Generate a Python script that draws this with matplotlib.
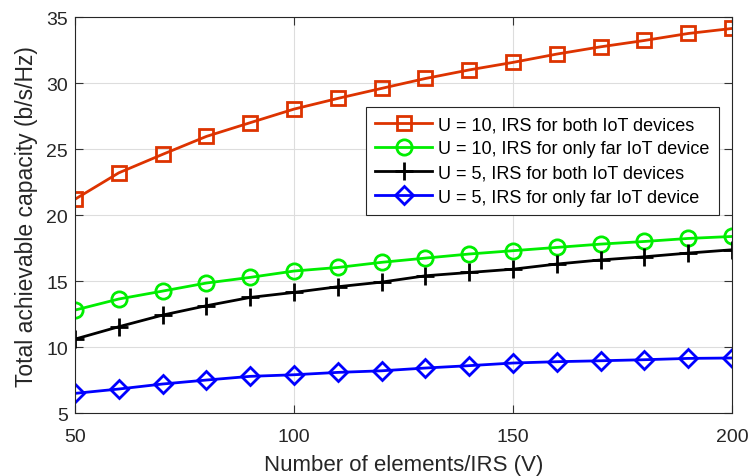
import matplotlib.pyplot as plt

plt.rcParams['font.family'] = ['Liberation Sans', 'DejaVu Sans']

# Sample data
elements = [50, 60, 70, 80, 90, 100, 110, 120, 130, 140, 150, 160, 170, 180, 190, 200]
u10_both = [21.2, 23.2, 24.6, 25.96, 27.0, 28.03, 28.84, 29.6, 30.35, 31.0,
            31.57, 32.2, 32.75, 33.23, 33.76, 34.14]
u10_far = [12.8, 13.64, 14.24, 14.85, 15.28, 15.76, 16.03, 16.42, 16.74, 17.05,
           17.3, 17.55, 17.8, 18.0, 18.23, 18.38]
u5_both = [10.6, 11.54, 12.42, 13.13, 13.76, 14.14, 14.57, 14.92, 15.4, 15.65,
           15.9, 16.29, 16.6, 16.84, 17.12, 17.37]
u5_far = [6.49, 6.82, 7.2, 7.5, 7.78, 7.9, 8.08, 8.2, 8.41, 8.59,
          8.79, 8.89, 8.96, 9.04, 9.14, 9.17]

labels = ['U = 10, IRS for both IoT devices',
          'U = 10, IRS for only far IoT device',
          'U = 5, IRS for both IoT devices',
          'U = 5, IRS for only far IoT device']

fig = plt.figure(figsize=(7.52, 4.77), dpi=100)
ax = fig.add_axes([0.0997, 0.132, 0.8737, 0.830])

ax.plot(elements, u10_both, color='#DD3300', lw=2, marker='s', ms=10,
        mfc='none', mew=2, label=labels[0])
ax.plot(elements, u10_far, color='#00EE00', lw=2, marker='o', ms=11,
        mfc='none', mew=2, label=labels[1])
ax.plot(elements, u5_both, color='black', lw=2, marker='+', ms=13,
        mew=2, label=labels[2])
ax.plot(elements, u5_far, color='#0000FF', lw=2, marker='D', ms=9,
        mfc='none', mew=2, label=labels[3])

ax.set_xlim(50, 200)
ax.set_ylim(5, 35)
ax.set_xticks([50, 100, 150, 200])
ax.set_yticks([5, 10, 15, 20, 25, 30, 35])
ax.grid(True, color='#DDDDDD', lw=0.8)
ax.set_axisbelow(True)
ax.tick_params(direction='in', top=True, right=True, labelsize=14,
               length=6, color='#333333', labelcolor='#262626')
ax.tick_params(axis='x', pad=11)
ax.tick_params(axis='y', pad=5)
for s in ax.spines.values():
    s.set_color('#262626')
    s.set_linewidth(0.8)

ax.set_xlabel('Number of elements/IRS (V)', fontsize=16, color='#262626',
              labelpad=6)
ax.set_ylabel('Total achievable capacity (b/s/Hz)', fontsize=16.5, color='#262626',
              labelpad=6)

leg = ax.legend(loc='upper right', bbox_to_anchor=(0.98, 0.773), fontsize=13,
                fancybox=False, edgecolor='#262626', framealpha=1,
                handlelength=3.2, borderpad=0.5, labelspacing=0.4,
                handletextpad=0.33, borderaxespad=0)
leg.get_frame().set_linewidth(0.8)

fig.savefig('out.png', dpi=100)
